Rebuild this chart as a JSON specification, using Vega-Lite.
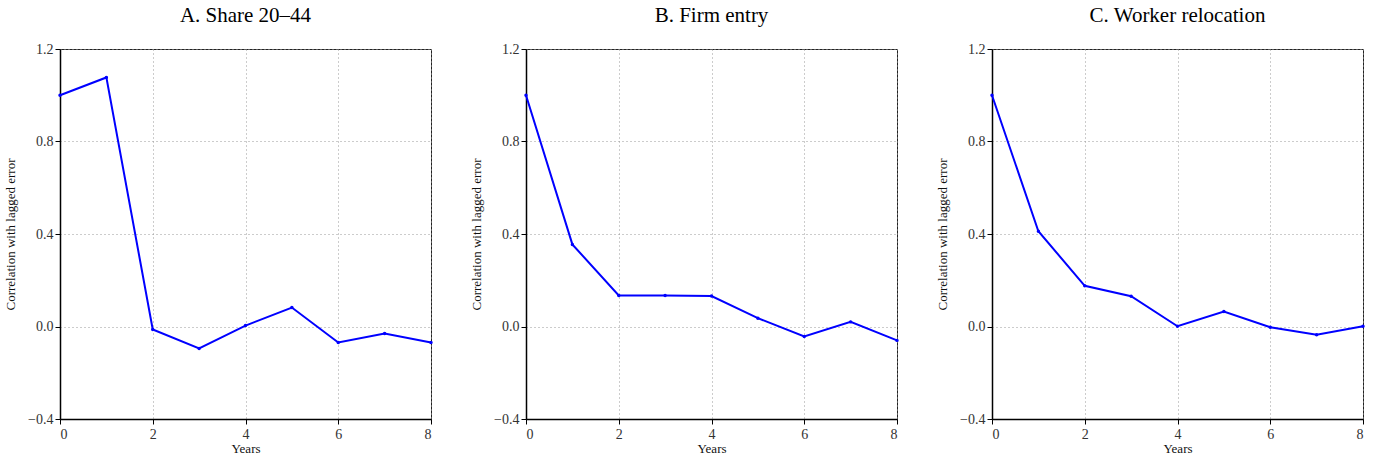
{
  "$schema": "https://vega.github.io/schema/vega-lite/v6.json",
  "padding": {"left": 4, "top": 5, "right": 5, "bottom": 5},
  "background": "white",
  "data": {"values": [
    {"panel": "A. Share 20–44", "year": 0, "corr": 1.0},
    {"panel": "A. Share 20–44", "year": 1, "corr": 1.077},
    {"panel": "A. Share 20–44", "year": 2, "corr": -0.013},
    {"panel": "A. Share 20–44", "year": 3, "corr": -0.095},
    {"panel": "A. Share 20–44", "year": 4, "corr": 0.004},
    {"panel": "A. Share 20–44", "year": 5, "corr": 0.082},
    {"panel": "A. Share 20–44", "year": 6, "corr": -0.069},
    {"panel": "A. Share 20–44", "year": 7, "corr": -0.030},
    {"panel": "A. Share 20–44", "year": 8, "corr": -0.069},
    {"panel": "B. Firm entry", "year": 0, "corr": 1.0},
    {"panel": "B. Firm entry", "year": 1, "corr": 0.355},
    {"panel": "B. Firm entry", "year": 2, "corr": 0.134},
    {"panel": "B. Firm entry", "year": 3, "corr": 0.134},
    {"panel": "B. Firm entry", "year": 4, "corr": 0.132},
    {"panel": "B. Firm entry", "year": 5, "corr": 0.036},
    {"panel": "B. Firm entry", "year": 6, "corr": -0.043},
    {"panel": "B. Firm entry", "year": 7, "corr": 0.02},
    {"panel": "B. Firm entry", "year": 8, "corr": -0.06},
    {"panel": "C. Worker relocation", "year": 0, "corr": 1.0},
    {"panel": "C. Worker relocation", "year": 1, "corr": 0.412},
    {"panel": "C. Worker relocation", "year": 2, "corr": 0.176},
    {"panel": "C. Worker relocation", "year": 3, "corr": 0.131},
    {"panel": "C. Worker relocation", "year": 4, "corr": 0.001},
    {"panel": "C. Worker relocation", "year": 5, "corr": 0.065},
    {"panel": "C. Worker relocation", "year": 6, "corr": -0.003},
    {"panel": "C. Worker relocation", "year": 7, "corr": -0.036},
    {"panel": "C. Worker relocation", "year": 8, "corr": 0.001}
  ]},
  "facet": {
    "column": {
      "field": "panel", "type": "nominal",
      "sort": ["A. Share 20–44", "B. Firm entry", "C. Worker relocation"],
      "header": {"title": null, "labelFont": "Liberation Serif", "labelFontSize": 21, "labelColor": "black", "labelPadding": 15}
    }
  },
  "spacing": 34,
  "resolve": {"axis": {"y": "independent", "x": "independent"}},
  "spec": {
    "width": 371,
    "height": 370,
    "mark": {"type": "line", "color": "#0000ff", "strokeWidth": 2, "point": {"filled": true, "color": "#0000ff", "size": 12}},
    "encoding": {
      "x": {"field": "year", "type": "quantitative",
        "scale": {"domain": [0, 8], "nice": false},
        "axis": {"title": "Years", "values": [0, 2, 4, 6, 8], "format": "d"}},
      "y": {"field": "corr", "type": "quantitative",
        "scale": {"domain": [-0.4, 1.2], "nice": false, "zero": false},
        "axis": {"title": "Correlation with lagged error", "values": [-0.4, 0, 0.4, 0.8, 1.2], "format": ".1f"}}
    }
  },
  "config": {
    "view": {"stroke": "#222", "strokeWidth": 1},
    "axis": {
      "labelFont": "Liberation Serif", "labelFontSize": 14, "labelColor": "#333",
      "titleFont": "Liberation Serif", "titleFontSize": 13, "titleFontWeight": "normal", "titleColor": "#111",
      "domainColor": "black", "domainWidth": 1.5,
      "tickColor": "black", "tickSize": 5,
      "gridColor": "#999", "gridDash": [1, 3], "gridWidth": 1,
      "labelPadding": 3
    },
    "axisX": {"titlePadding": 1},
    "axisY": {"titlePadding": 10, "labelPadding": 2}
  }
}
